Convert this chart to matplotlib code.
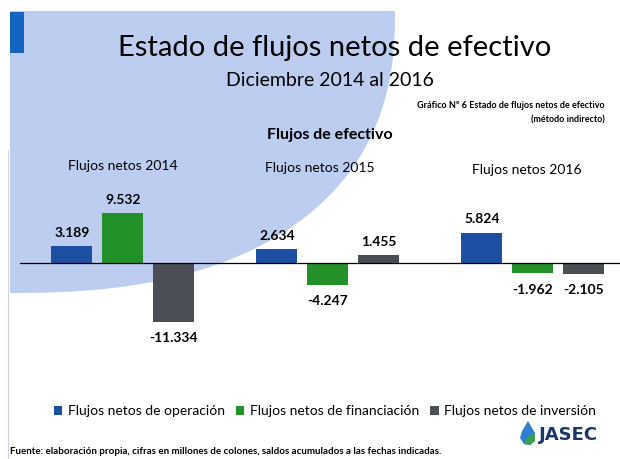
import numpy as np
import matplotlib.pyplot as plt
from matplotlib.patches import Polygon, Rectangle

years = ['Flujos netos 2014', 'Flujos netos 2015', 'Flujos netos 2016']
series = ['Flujos netos de operación', 'Flujos netos de financiación', 'Flujos netos de inversión']
operacion = [3.189, 2.634, 5.824]
financiacion = [9.532, -4.247, -1.962]
inversion = [-11.334, 1.455, -2.105]
colors = ['#1d4fa3', '#23902a', '#4b4e54']

W, H = 620, 459
plt.rcParams['font.family'] = ['Lato', 'DejaVu Sans']

fig = plt.figure(figsize=(W / 100, H / 100), dpi=100)
fig.patch.set_facecolor('white')

def fx(x):
    return x / W

def fy(y):
    return 1 - y / H

# background decoration (pixel coords): quarter superellipse from top-left corner
bg = fig.add_axes([0, 0, 1, 1])
bg.set_xlim(0, W)
bg.set_ylim(H, 0)
bg.axis('off')
t = np.linspace(0, np.pi / 2, 200)
n = 2.4
ex = 10 + 385 * np.cos(t) ** (2 / n)
ey = 11 + 282 * np.sin(t) ** (2 / n)
pts = np.vstack([[10, 11], np.column_stack([ex, ey])])
bg.add_patch(Polygon(pts, closed=True, facecolor='#bccdf0', edgecolor='none'))
bg.add_patch(Rectangle((10, 12), 14, 41, facecolor='#1565c0', edgecolor='none'))
bg.plot([8, 8], [150, 459], color='#d0d4dc', lw=0.8)

# JASEC logo
drop = Polygon([[528, 421], [522, 431], [520, 438], [524, 444], [530, 445], [535, 441], [535, 433]],
               closed=True, facecolor='#2f7fd0', edgecolor='none')
bg.add_patch(drop)
bg.add_patch(Polygon([[528, 437], [535, 433], [535, 441], [530, 445], [524, 444]], closed=True,
                     facecolor='#3aa04a', edgecolor='none'))
bg.text(539, 435, 'JASEC', fontsize=13, fontweight='bold', color='#1b3767', va='center', ha='left',
        family='DejaVu Sans')

# chart
ax = fig.add_axes([fx(20), fy(380), 600 / W, 200 / H])
ax.patch.set_alpha(0)
x = np.arange(len(years))
w = 0.2
off = 0.249
vals = [operacion, financiacion, inversion]
for i, (name, v, c) in enumerate(zip(series, vals, colors)):
    bars = ax.bar(x + (i - 1) * off, v, width=w, color=c, label=name)
    for b, val in zip(bars, v):
        lbl = f'{val:.3f}'
        if val >= 0:
            ax.text(b.get_x() + w / 2, val + 1.5, lbl, ha='center', va='bottom', fontsize=10, fontweight='bold')
        else:
            ax.text(b.get_x() + w / 2, val - 2.0, lbl, ha='center', va='top', fontsize=10, fontweight='bold')
ax.axhline(0, color='black', lw=0.9)
ax.set_xlim(-0.502, -0.502 + 600 / 205)
ax.set_ylim(-117 / 5.2, 83 / 5.2)
ax.axis('off')

# texts
fig.text(fx(335), fy(48), 'Estado de flujos netos de efectivo', fontsize=21, ha='center', va='center')
fig.text(fx(330), fy(80), 'Diciembre 2014 al 2016', fontsize=14, ha='center', va='center')
fig.text(fx(605), fy(105), 'Gráfico Nº 6 Estado de flujos netos de efectivo', fontsize=6.5,
         fontweight='bold', ha='right', va='center')
fig.text(fx(605), fy(120), '(método indirecto)', fontsize=6.5, fontweight='bold', ha='right', va='center')
fig.text(fx(330), fy(135), 'Flujos de efectivo', fontsize=11.5, fontweight='bold', ha='center', va='center')
for (xp, yp), name in zip([(123, 166), (320, 168), (527, 170)], years):
    fig.text(fx(xp), fy(yp), name, fontsize=10, ha='center', va='center')

fig.legend(loc='center', bbox_to_anchor=(fx(325), fy(411)), ncol=3, frameon=False, fontsize=10,
           handlelength=0.6, handleheight=0.6, handletextpad=0.4, columnspacing=0.8)

fig.text(fx(10), fy(451), 'Fuente: elaboración propia, cifras en millones de colones, saldos acumulados a las fechas indicadas.',
         fontsize=7, fontweight='bold', ha='left', va='center')

fig.savefig('out.png', dpi=100)
